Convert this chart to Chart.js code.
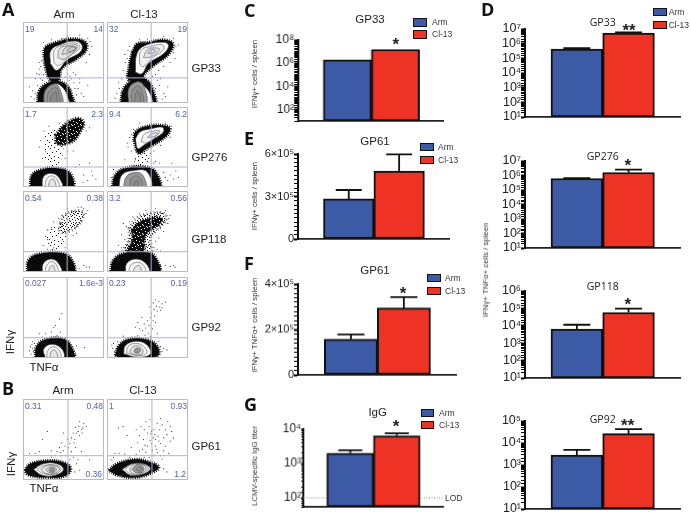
<!DOCTYPE html>
<html><head><meta charset="utf-8">
<style>
html,body{margin:0;padding:0;background:#fff;width:691px;height:515px;overflow:hidden;font-family:"Liberation Sans",Arial,sans-serif}
canvas{position:absolute;display:block}
.t{position:absolute;white-space:nowrap;line-height:1;color:#222}
.sw{position:absolute;border:1.5px solid #111;box-sizing:border-box}
</style>
<script src="https://cdn.jsdelivr.net/npm/chart.js@4"></script>
</head><body>
<script>
/* ---------- bar chart data ---------- */
const categories=['Arm','Cl-13'];
const gp33IfnValues=[1.95e6,1.5e7];
const gp61IfnValues=[2.83e5,4.8e5];
const gp61IfnErrors=[3.46e5,5.98e5];
const gp61DualValues=[1.57e5,2.95e5];
const gp61DualErrors=[1.78e5,3.43e5];
const iggValues=[2010,6400];
const iggErrors=[2450,7540];
const lodValue=100;
const gp33DualValues=[4.3e5,5.3e6];
const gp33DualErrors=[5e5,5.8e6];
const gp276DualValues=[6.2e5,1.6e6];
const gp276DualErrors=[6.5e5,2.57e6];
const gp118DualValues=[6.5e3,5.8e4];
const gp118DualErrors=[1.15e4,9.8e4];
const gp92DualValues=[2.8e3,2.65e4];
const gp92DualErrors=[4.9e3,4.3e4];
const tickLabelsC=[1e2,1e4,1e6,1e8];
const tickLabelsE=[0,3e5,6e5];
const tickLabelsF=[0,2e5,4e5];
const tickLabelsG=[1e2,1e3,1e4];
const tickLabelsD7=[1e1,1e2,1e3,1e4,1e5,1e6,1e7];
const tickLabelsD6=[1e1,1e2,1e3,1e4,1e5,1e6];
const tickLabelsD5=[1e1,1e2,1e3,1e4,1e5];

/* ---------- flow cytometry readings, x and y in percent of the plot ---------- */
const gp33ArmLayers=[
['blob',[[25.5,58.8],[27.6,69],[42,75.3],[60.5,79.4],[77,75.3],[78,65],[66.7,54.7],[48,42.4],[44,28],[33.7,28],[27.6,44.4]]],
['white',[[33.7,48.6],[34.6,65],[48,72.8],[64.6,76.5],[72.8,71.6],[70.8,63],[54.3,53],[42,40.3]]],
['ring',[[38,50],[39,66],[52,72],[66,74],[70,68],[56,57],[44,46]]],
['ring',[[43,56],[45,67],[56,71],[67,71],[62,62],[50,54]]],
['ring',[[48,60],[52,68],[62,70],[66,68],[58,62]]],
['ring',[[54,64],[60,69],[65,68],[60,64]]],
['blob',[[18,1],[19.3,13.6],[27.6,23],[42,26.7],[54.3,21.8],[60.5,9.5],[61.7,-2],[17,-2]]],
['white',[[25.5,-2],[27.6,15.6],[40,24],[50,18],[55,8],[56,-2]]],
['shade',[[26,-2],[28,15],[40,23],[46,16],[48,-2]]],
['ring',[[30,-2],[31,12],[40,19],[44,12],[45,-2]]],
['ring',[[34,-2],[35,9],[40,14],[42,7],[42,-2]]]];
const gp33ArmDots=[[22,45],[15,30],[18,22],[12,15],[10,8],[8,20],[20,35],[25,35],[65,35],[70,30],[72,12],[70,25],[68,18],[75,8],[80,22],[60,30],[63,25],[58,33],[78,50],[82,60],[85,70],[25,75],[20,50],[15,12],[14,5],[23,52],[20,42],[17,36],[24,28],[22,30],[62,38],[55,36],[52,32],[57,28],[64,18],[66,10],[83,76],[80,80],[70,84],[55,83],[48,80],[35,78]];
const gp33ClLayers=[
['blob',[[31,63],[37,73],[51.4,75],[70,78],[81.5,73],[76,60],[57,45.6],[45,33],[49,28],[27,28],[27,44.4]]],
['white',[[35,38],[37,61],[47,71],[70,75],[76,71],[70,61],[51,48.6],[43,36]]],
['ring',[[40,48],[42,65],[55,70],[68,72],[70,66],[55,55],[45,45]]],
['ring',[[45,56],[50,66],[60,68],[65,66],[54,57]]],
['ring',[[50,62],[56,66],[60,64],[54,61]]],
['blob',[[17,-2],[20.6,17.7],[33,28],[49,28],[57,15.6],[58.4,-2]]],
['white',[[27,-2],[27,17.7],[37,26],[45,22],[54,10],[55,-2]]],
['shade',[[27,-2],[27,17.7],[37,26],[45,22],[48,-2]]],
['ring',[[31,-2],[31,14],[38,21],[43,15],[44,-2]]],
['ring',[[34,-2],[35,10],[38,15],[41,9],[41,-2]]]];
const gp33ClDots=[[23,50],[20,40],[18,30],[14,25],[12,12],[10,6],[15,18],[24,34],[22,60],[25,55],[60,35],[62,28],[65,22],[60,18],[70,12],[75,20],[66,30],[56,33],[82,62],[85,70],[88,72],[82,80],[70,82],[50,79],[40,78],[28,70],[26,65],[84,55],[78,50],[70,45],[64,40],[18,8],[16,4],[72,8],[68,5]];
const gp276ArmLayers=[
['speck',[[25.5,62.5],[40,72],[50,50],[42,26],[30,26]]],
['dense',[[40,65],[50,77],[66.7,86],[75,81],[70.8,69],[60.5,56.4],[42,54]]],
['blob',[[9,-2],[11,15],[23.5,22],[42,23.5],[58.4,17],[60.5,-2]]],
['white',[[23.5,-2],[25.5,13],[36,17],[45,11],[48,-2]]],
['ring',[[27,-2],[29,10],[36,14],[43,8],[44,-2]]],
['ring',[[31,-2],[33,7],[37,10],[40,5],[40,-2]]]];
const gp276ArmDots=[[75,15],[85,20],[90,10],[80,8],[82,30],[70,28],[65,25],[26,70],[32,76],[22,58],[20,50],[45,80],[55,83],[78,70],[82,74],[28,44],[24,36],[62,45],[55,44],[52,36],[74,6],[86,14]];
const gp276ClLayers=[
['speck',[[37,44],[46,46],[52,34],[47,22],[34,24]]],
['blob',[[33,58.4],[35,69],[49,76],[70,77],[78,73],[72,62.5],[49.4,48],[39,42]]],
['white',[[35,60],[41,69],[53.5,72.6],[68,74.9],[70,69.5],[61.7,62.5],[45,52],[38,48]]],
['ring',[[42,57],[46,66],[58,70],[65,70],[60,63],[48,55]]],
['ring',[[50,62],[56,67],[63,67],[58,63]]],
['blob',[[6,-2],[10,15],[22.6,23.5],[45,25.5],[60,19],[64,-2]]],
['white',[[14.4,-2],[18.5,15],[33,20.6],[49.4,19],[53.5,-2]]],
['shade',[[20,-2],[24,13],[34,18],[44,15],[47,-2]]],
['ring',[[28,-2],[30,10],[36,14],[42,9],[42,-2]]],
['ring',[[33,2],[36,8],[39,4],[36,1]]]];
const gp276ClDots=[[65,30],[70,18],[72,12],[78,15],[82,10],[85,20],[75,8],[80,30],[60,32],[8,22],[5,12],[30,45],[25,55],[88,12],[28,62],[30,66],[33,72],[40,80],[55,80],[72,80],[80,76],[78,62],[66,52],[58,45],[54,42],[26,50],[22,34],[58,30],[35,34]];
const gp118ArmLayers=[
['speck',[[27.6,44],[40,60.5],[54,50],[42,23],[33.7,23]]],
['stipple',[[46,60.5],[52,71],[69,76],[75,71],[69,58.8],[56.4,50],[46,50]]],
['blob',[[5,-2],[7,15],[21,22.6],[48,23.5],[60.5,15],[61.7,-2]]],
['white',[[23.5,-2],[25.5,11],[36,16],[45,9],[47,-2]]],
['ring',[[27,-2],[29,8],[36,13],[42,7],[43,-2]]],
['ring',[[31,-2],[33,5],[37,8],[39,4],[39,-2]]]];
const gp118ArmDots=[[75,8],[78,6],[82,6],[70,4],[72,80],[75,78],[30,40],[35,55],[68,80],[60,75],[72,62],[65,55],[30,52],[28,44],[38,62],[44,66],[48,70],[55,78],[78,72],[62,45],[66,48],[50,38],[52,30],[30,28],[25,33],[38,30],[80,76]];
const gp118ClLayers=[
['stipple',[[27,54],[37,66.7],[53.5,72.6],[70,72.6],[73,64.6],[61.7,52],[54,42],[54,23],[20.6,23],[27,40.7]]],
['dense',[[31,52],[41,62],[62,68],[68,64],[58,54],[48,46],[43,24],[25,24],[31,38]]],
['blob',[[4,-2],[8,15],[22.6,23.5],[51.4,24],[61.7,15],[64,-2]]],
['white',[[22.6,-2],[24.7,11],[37,16],[49.4,9],[51.4,-2]]],
['ring',[[27,-2],[29,8],[38,12],[46,7],[47,-2]]],
['ring',[[32,-2],[34,5],[39,8],[42,4],[42,-2]]]];
const gp118ClDots=[[20,60],[24,56],[18,46],[22,40],[18,30],[15,25],[32,68],[40,72],[48,76],[60,78],[72,76],[78,70],[75,60],[70,50],[64,42],[60,38],[58,30],[62,28],[66,26],[28,62],[72,8],[78,7],[82,8],[84,6],[66,8],[14,33],[46,70],[76,66],[66,54]];
const gp92ArmLayers=[
['blob',[[15,-2],[17,15],[30,23.5],[50,23.5],[60.5,13],[61.7,-2]]],
['white',[[27.6,0],[25.5,11],[36,17],[48,11],[50,0]]],
['ring',[[30,-2],[30,8],[37,14],[45,9],[46,-2]]],
['ring',[[34,-2],[34,6],[38,10],[42,6],[42,-2]]]];
const gp92ArmDots=[[10,5],[12,12],[14,18],[8,9],[35,32],[38,38],[28,30],[45,48],[48,55],[46,32],[42,28],[76,13],[66,15],[40,40],[20,30],[35,26],[24,26],[12,20],[9,14],[13,8],[11,17],[63,8],[65,4]];
const gp92ClLayers=[
['blob',[[10,3],[14.4,15],[27,23.5],[49.4,22.6],[61.7,15],[63,3],[40,-2],[20,-2]]],
['white',[[20.6,5],[22.6,15],[35,20.6],[49,16.5],[53.5,5],[38,1]]],
['ring',[[24,6],[26,14],[35,18],[46,14],[49,6],[38,3]]],
['ring',[[28,7],[31,13],[37,15],[43,12],[44,6],[36,4]]],
['shade',[[33,8],[36,12],[41,11],[40,7],[36,6]]]];
const gp92ClDots=[[57,68],[60,72],[64,70],[68,67],[72,69],[61,64],[65,63],[58,60],[55,55],[62,58],[66,59],[59,52],[54,50],[57,46],[50,46],[46,42],[48,37],[43,50],[38,44],[40,36],[44,34],[35,38],[52,40],[56,36],[60,44],[51,30],[54,27],[47,28],[38,28],[30,26],[62,30],[8,18],[13,20],[20,27],[70,12],[74,10],[68,62],[53,63],[7,12],[9,8],[6,16],[64,20],[66,14],[68,8]];
const gp61ArmLayers=[
['blob',[[1.6,12],[9,20],[32,24],[52,21],[59,14],[52,5],[30,3],[7,6]]],
['white',[[13,13],[25,20],[42,20],[50,13],[40,6],[23.5,6]]],
['ring',[[17,13],[26,18],[42,18],[47,13],[40,7.5],[25,8]]],
['ring',[[22,13],[30,18],[41,17],[45,13],[38,8],[28,8]]],
['ring',[[28,13],[33,16],[40,15],[41,12],[36,9],[31,10]]],
['shade',[[32,13],[36,15],[39,13],[37,10],[33,11]]]];
const gp61ArmDots=[[70,72],[65,65],[68,60],[72,62],[66,58],[74,64],[70,55],[62,58],[75,70],[78,66],[60,52],[58,45],[64,50],[55,50],[52,42],[56,40],[48,46],[45,40],[50,36],[42,35],[47,30],[40,30],[35,28],[53,30],[60,35],[65,40],[72,35],[78,30],[82,25],[35,36],[24,50],[30,60],[20,35],[15,33],[8,33],[50,58],[62,28],[68,25],[58,25],[70,12],[64,10],[66,20],[69,66],[73,58],[63,46],[46,34]];
const gp61ClLayers=[
['blob',[[2,12],[12.3,20],[35,25.5],[51.4,22.6],[64,15.6],[53.5,8],[35,3],[12.3,6]]],
['white',[[18.5,13],[31,20],[45,20],[53.5,14],[45,7.4],[29,6]]],
['ring',[[22,13],[32,20],[46,19],[51,13],[42,7],[28,8]]],
['ring',[[28,14],[35,20],[46,18],[48,12],[38,7],[30,9]]],
['shade',[[31,13],[37,19],[45,16],[44,10],[36,9]]],
['ring',[[36,13],[40,16],[43,13],[39,11]]]];
const gp61ClDots=[[78,66],[75,72],[72,62],[80,60],[74,56],[68,68],[65,62],[70,52],[62,70],[58,62],[63,54],[57,52],[52,66],[48,72],[50,58],[46,62],[55,45],[60,42],[66,45],[72,42],[78,48],[82,52],[45,50],[40,55],[38,46],[50,42],[44,38],[56,36],[48,34],[40,36],[36,32],[58,30],[52,28],[46,28],[62,34],[66,30],[30,40],[28,28],[22,32],[15,33],[10,33],[20,66],[14,64],[25,55],[8,28],[5,25],[60,50],[54,57],[42,66],[70,36],[76,33],[68,26],[70,14],[74,10],[60,20],[64,18],[36,62],[53,75],[66,76],[59,56],[53,49],[47,43],[64,48],[61,38],[55,60]];

/* ---------- helpers ---------- */
const BLUE='#3c5aa6',RED='#ee3224',INK='#222';
const axisFont='"Liberation Sans",Arial,sans-serif';
function text(s,x,y,o={}){
  const e=document.createElement('div');e.className='t';e.textContent=s;
  const ax=o.anchor==='start'?'0':o.anchor==='end'?'-100%':'-50%';
  e.style.cssText+=`left:${x}px;top:${y}px;font-size:${o.size||11}px;transform:translate(${ax},-50%)${o.rot?' rotate(-90deg)':''};`;
  if(o.color)e.style.color=o.color;
  if(o.weight)e.style.fontWeight=o.weight;
  if(o.font)e.style.fontFamily=o.font;
  document.body.appendChild(e);
}
function letter(s,x,y){text(s,x,y,{size:18,weight:'700',font:'"Open Sans",sans-serif',color:'#111',anchor:'start'});}
function legend(x,y1,y2,w,h,tx,size){
  [[y1,BLUE,categories[0]],[y2,RED,categories[1]]].forEach(([y,c,l])=>{
    const d=document.createElement('div');d.className='sw';
    d.style.cssText+=`left:${x}px;top:${y}px;width:${w}px;height:${h}px;background:${c};`;
    document.body.appendChild(d);
    text(l,tx,y+h/2,{size:size||8.5,anchor:'start',color:'#333'});
  });
}
const SUP={'0':'⁰','1':'¹','2':'²','3':'³','4':'⁴','5':'⁵','6':'⁶','7':'⁷','8':'⁸','9':'⁹'};
const logLabel=v=>'10'+String(Math.round(Math.log10(v))).replace(/./g,c=>SUP[c]);
const sciLabel=v=>{if(v===0)return '0';const e=Math.floor(Math.log10(v));return Math.round(v/10**e)+'×10'+SUP[e];};

const errorBars={id:'errorBars',afterDatasetsDraw(c,a,o){
  if(!o.errors)return;const g=c.ctx,xs=c.scales.x,ys=c.scales.y;
  g.save();g.strokeStyle='#111';g.lineWidth=1.8;
  o.errors.forEach((e,i)=>{
    const x=xs.getPixelForValue(i+1),t=ys.getPixelForValue(e),b=ys.getPixelForValue(c.data.datasets[0].data[i].y);
    g.beginPath();g.moveTo(x,b);g.lineTo(x,t);g.moveTo(x-o.cap/2,t);g.lineTo(x+o.cap/2,t);g.stroke();
  });g.restore();
}};
const lodLine={id:'lodLine',beforeDatasetsDraw(c,a,o){
  if(o.value==null)return;const g=c.ctx,y=c.scales.y.getPixelForValue(o.value);
  g.save();g.strokeStyle='#888';g.lineWidth=1;g.setLineDash([1,1.5]);
  g.beginPath();g.moveTo(c.chartArea.left,y);g.lineTo(c.chartArea.right,y);g.stroke();g.restore();
}};

function bar(p){
  const gut=50,pad=12,W=gut+(p.axisEnd-p.axisX)+1,H=pad*2+(p.bottom-p.top);
  const cv=document.createElement('canvas');cv.width=W;cv.height=H;
  cv.style.left=(p.axisX-gut)+'px';cv.style.top=(p.top-pad)+'px';cv.style.width=W+'px';cv.style.height=H+'px';
  document.body.appendChild(cv);
  const x1=p.barLeft+p.barW/2;
  const isLabel=v=>p.labels.some(l=>l===v||(l&&Math.abs(v-l)/l<1e-9));
  new Chart(cv,{type:'bar',
    data:{datasets:[{label:categories.join(' / '),data:p.values.map((v,i)=>({x:i+1,y:v})),backgroundColor:[BLUE,RED],borderColor:'#111',borderWidth:2,borderSkipped:false,barThickness:p.barW}]},
    plugins:[errorBars,lodLine],
    options:{responsive:false,animation:false,events:[],
      layout:{autoPadding:false,padding:{left:0,right:1,top:pad,bottom:pad}},
      plugins:{legend:{display:false},tooltip:{enabled:false},errorBars:{errors:p.errors,cap:p.cap||26},lodLine:{value:p.lod}},
      scales:{
        x:{type:'linear',offset:false,min:1-(x1-p.axisX)/p.barW,max:1+(p.axisEnd-x1)/p.barW,
           grid:{display:false},ticks:{display:false},border:{color:'#222',width:1.8},afterFit(s){s.height=0;}},
        y:{type:p.log?'logarithmic':'linear',min:p.min,max:p.max,
           afterFit(s){s.width=gut;},
           grid:{drawOnChartArea:false,tickLength:p.tick||4,color:'#000',tickColor:'#000',tickWidth:c=>isLabel(c.tick.value)?2:1},
           border:{color:'#111',width:2},
           ticks:{autoSkip:false,stepSize:p.step,padding:0,color:INK,font:{family:axisFont,size:p.font||12},maxRotation:0,
             callback:v=>isLabel(v)?(p.log?logLabel(v):sciLabel(v)):''}}
      }}});
}
function tilePattern(size,dots,invert){
  const t=document.createElement('canvas');t.width=t.height=size;const g=t.getContext('2d');
  if(invert){g.fillStyle='#0a0a0a';g.fillRect(0,0,size,size);g.fillStyle='#fff';}else g.fillStyle='#111';
  dots.forEach(([x,y])=>g.fillRect(x,y,1,1));
  return document.createElement('canvas').getContext('2d').createPattern(t,'repeat');
}
const speckFill=tilePattern(13,[[1,2],[5,1],[9,3],[12,0],[3,6],[7,5],[11,7],[0,9],[5,10],[9,11],[2,12]]);
const stippleFill=tilePattern(11,[[0,0],[3,1],[6,0],[9,2],[1,3],[4,3],[7,4],[10,5],[2,5],[5,6],[0,6],[8,7],[3,8],[6,9],[1,9],[9,9],[4,10],[10,0],[7,1],[5,2],[2,7],[8,10]]);
const denseFill=tilePattern(9,[[1,1],[4,0],[7,2],[2,4],[5,5],[8,6],[0,7],[3,8],[6,8]],true);
const layerStyles={
  blob:{backgroundColor:'#0a0a0a',borderColor:'#0a0a0a',borderWidth:3,borderDash:[1,1.2]},
  dense:{backgroundColor:denseFill,borderColor:'#0a0a0a',borderWidth:3,borderDash:[1,1.4]},
  white:{backgroundColor:'#fff',borderColor:'#333',borderWidth:.7},
  shade:{backgroundColor:'#999',borderColor:'#444',borderWidth:.6},
  ring:{backgroundColor:'rgba(0,0,0,.05)',borderColor:'#555',borderWidth:.6},
  speck:{backgroundColor:speckFill,borderColor:'rgba(0,0,0,0)',borderWidth:0},
  stipple:{backgroundColor:stippleFill,borderColor:'rgba(0,0,0,.55)',borderWidth:3,borderDash:[1,2.4]}
};
const frameAndGate={id:'frameAndGate',afterDatasetsDraw(c,a,o){
  const g=c.ctx,{left,right,top,bottom}=c.chartArea,x=c.scales.x.getPixelForValue(o.vx),y=c.scales.y.getPixelForValue(o.hy);
  g.save();g.strokeStyle='#adb2d4';g.lineWidth=1;
  g.beginPath();g.moveTo(x,top);g.lineTo(x,bottom);g.moveTo(left,y);g.lineTo(right,y);g.stroke();
  g.strokeStyle='#b9bcc6';g.strokeRect(left+.5,top+.5,right-left-1,bottom-top-1);g.restore();
}};
const toPts=a=>a.map(([x,y])=>({x,y}));
function flow(p){
  const cv=document.createElement('canvas');cv.width=p.w;cv.height=p.h;
  cv.style.left=p.x+'px';cv.style.top=p.y+'px';cv.style.width=p.w+'px';cv.style.height=p.h+'px';
  document.body.appendChild(cv);
  const n=p.layers.length+1;
  const ds=p.layers.map(([k,pts],i)=>Object.assign({data:toPts(pts.concat([pts[0]])),showLine:true,pointRadius:0,tension:.42,fill:'shape',order:n-i},layerStyles[k]));
  ds.push({data:toPts(p.dots),showLine:false,pointRadius:.55,pointBorderWidth:0,pointBackgroundColor:'#222',order:0});
  new Chart(cv,{type:'scatter',data:{datasets:ds},plugins:[frameAndGate],
    options:{responsive:false,animation:false,events:[],layout:{autoPadding:false,padding:0},
      plugins:{legend:{display:false},tooltip:{enabled:false},frameAndGate:{vx:p.vx,hy:p.hy}},
      scales:{x:{display:false,min:0,max:100},y:{display:false,min:0,max:100}}}});
  const c='#5560a8',s=8.5;
  if(p.q[0])text(p.q[0],p.x+2,p.y+6.5,{size:s,anchor:'start',color:c});
  if(p.q[1])text(p.q[1],p.x+p.w-1,p.y+6.5,{size:s,anchor:'end',color:c});
  if(p.q[2])text(p.q[2],p.x+p.w-2,p.y+p.h-6,{size:s,anchor:'end',color:c});
}

/* ---------- panels A and B ---------- */
const col1=23,col2=107,fw=81;
flow({x:col1,y:22,w:fw,h:81,vx:54.5,hy:31,layers:gp33ArmLayers,dots:gp33ArmDots,q:['19','14']});
flow({x:col2,y:22,w:fw,h:81,vx:54.5,hy:31,layers:gp33ClLayers,dots:gp33ClDots,q:['32','19']});
flow({x:col1,y:107,w:fw,h:80,vx:54.5,hy:25,layers:gp276ArmLayers,dots:gp276ArmDots,q:['1.7','2.3']});
flow({x:col2,y:107,w:fw,h:80,vx:54.5,hy:25,layers:gp276ClLayers,dots:gp276ClDots,q:['9.4','6.2']});
flow({x:col1,y:191,w:fw,h:81,vx:54.5,hy:25,layers:gp118ArmLayers,dots:gp118ArmDots,q:['0.54','0.38']});
flow({x:col2,y:191,w:fw,h:81,vx:54.5,hy:25,layers:gp118ClLayers,dots:gp118ClDots,q:['3.2','0.56']});
flow({x:col1,y:276.5,w:fw,h:81,vx:54.5,hy:25,layers:gp92ArmLayers,dots:gp92ArmDots,q:['0.027','1.6e-3']});
flow({x:col2,y:276.5,w:fw,h:81,vx:54.5,hy:25,layers:gp92ClLayers,dots:gp92ClDots,q:['0.23','0.19']});
flow({x:col1,y:399,w:fw,h:81,vx:55.5,hy:30,layers:gp61ArmLayers,dots:gp61ArmDots,q:['0.31','0.48','0.36']});
flow({x:col2,y:399,w:fw,h:81,vx:55.5,hy:30,layers:gp61ClLayers,dots:gp61ClDots,q:['1','0.93','1.2']});

letter('A',2,9);letter('B',2,388);
text('Arm',64,15,{size:11.5});text('Cl-13',144,15,{size:11.5});
text('Arm',63,391,{size:11.5});text('Cl-13',143,391,{size:11.5});
text('GP33',191.5,69,{size:11.5,anchor:'start'});
text('GP276',191.5,158,{size:11.5,anchor:'start'});
text('GP118',191.5,239.5,{size:11.5,anchor:'start'});
text('GP92',191.5,327.5,{size:11.5,anchor:'start'});
text('GP61',191.5,447,{size:11.5,anchor:'start'});
text('IFNγ',11,342,{size:11.5,rot:1});text('TNFα',44,368,{size:11.5});
text('IFNγ',12,464,{size:11.5,rot:1});text('TNFα',44,489,{size:11.5});

/* ---------- panel C ---------- */
letter('C',244,10);
bar({axisX:298,axisEnd:442.5,top:39.5,bottom:120.7,barLeft:323,barW:48,log:true,min:1e1,max:1e8,values:gp33IfnValues,labels:tickLabelsC});
text('GP33',370,20,{size:11.5});legend(413,18,30,14,8.5,432);
text('IFNγ+ cells / spleen',255,74,{size:7.8,rot:1,color:'#333'});
text('*',395.7,44,{size:17,weight:'700'});

/* ---------- panel E ---------- */
letter('E',244,138);
bar({axisX:297.7,axisEnd:449,top:154,bottom:239.3,barLeft:323.3,barW:50.5,min:0,max:6e5,step:3e4,values:gp61IfnValues,errors:gp61IfnErrors,labels:tickLabelsE,font:11});
text('GP61',375,142,{size:11.5});legend(420,143,156,13.5,8,438);
text('IFNγ+ cells / spleen',255,196,{size:7.8,rot:1,color:'#333'});

/* ---------- panel F ---------- */
letter('F',244,263);
bar({axisX:297.7,axisEnd:456.5,top:284.3,bottom:375,barLeft:324.3,barW:53.2,min:0,max:4e5,step:2e4,values:gp61DualValues,errors:gp61DualErrors,labels:tickLabelsF,font:11,cap:27});
text('GP61',375,271,{size:11.5});legend(427,274,287,13.5,8,445);
text('IFNγ+ TNFα+ cells / spleen',255,325,{size:7.8,rot:1,color:'#333'});
text('*',403,293,{size:17,weight:'700'});

/* ---------- panel G ---------- */
letter('G',244,404);
bar({axisX:303.3,axisEnd:443,top:429,bottom:506.7,barLeft:327,barW:46.5,log:true,min:54.6,max:1e4,values:iggValues,errors:iggErrors,labels:tickLabelsG,lod:lodValue,cap:24,tick:2});
text('IgG',377.7,413,{size:11.5});legend(420.5,409,421,13,8,439);
text('LCMV-specific IgG titer',255,466,{size:7.8,rot:1,color:'#333'});
text('LOD',445,497.5,{size:8.5,anchor:'start',color:'#333'});
text('*',396,426,{size:17,weight:'700'});

/* ---------- panel D ---------- */
letter('D',481,9);
const dBar={axisX:525,axisEnd:680,barLeft:551,barW:51.7,log:true,min:1e1,cap:27,font:12.5};
bar({...dBar,top:29.3,bottom:117.3,max:1e7,values:gp33DualValues,errors:gp33DualErrors,labels:tickLabelsD7});
bar({...dBar,top:160.7,bottom:248.3,max:1e7,values:gp276DualValues,errors:gp276DualErrors,labels:tickLabelsD7});
bar({...dBar,top:290.7,bottom:378.3,max:1e6,values:gp118DualValues,errors:gp118DualErrors,labels:tickLabelsD6});
bar({...dBar,top:421,bottom:509.3,max:1e5,values:gp92DualValues,errors:gp92DualErrors,labels:tickLabelsD5});
legend(652.7,7.5,20.5,14,8,668.7);
text('GP33',602.7,22,{size:10.5,font:'"Open Sans",sans-serif'});
text('GP276',602.7,156,{size:10.5,font:'"Open Sans",sans-serif'});
text('GP118',602.7,286,{size:10.5,font:'"Open Sans",sans-serif'});
text('GP92',602.7,419,{size:10.5,font:'"Open Sans",sans-serif'});
text('**',629,30,{size:17,weight:'700'});
text('*',627.7,165,{size:17,weight:'700'});
text('*',627.7,304,{size:17,weight:'700'});
text('**',627.7,425,{size:17,weight:'700'});
text('IFNγ+ TNFα+ cells / spleen',486,270,{size:7.8,rot:1,color:'#333'});
</script>
</body></html>
